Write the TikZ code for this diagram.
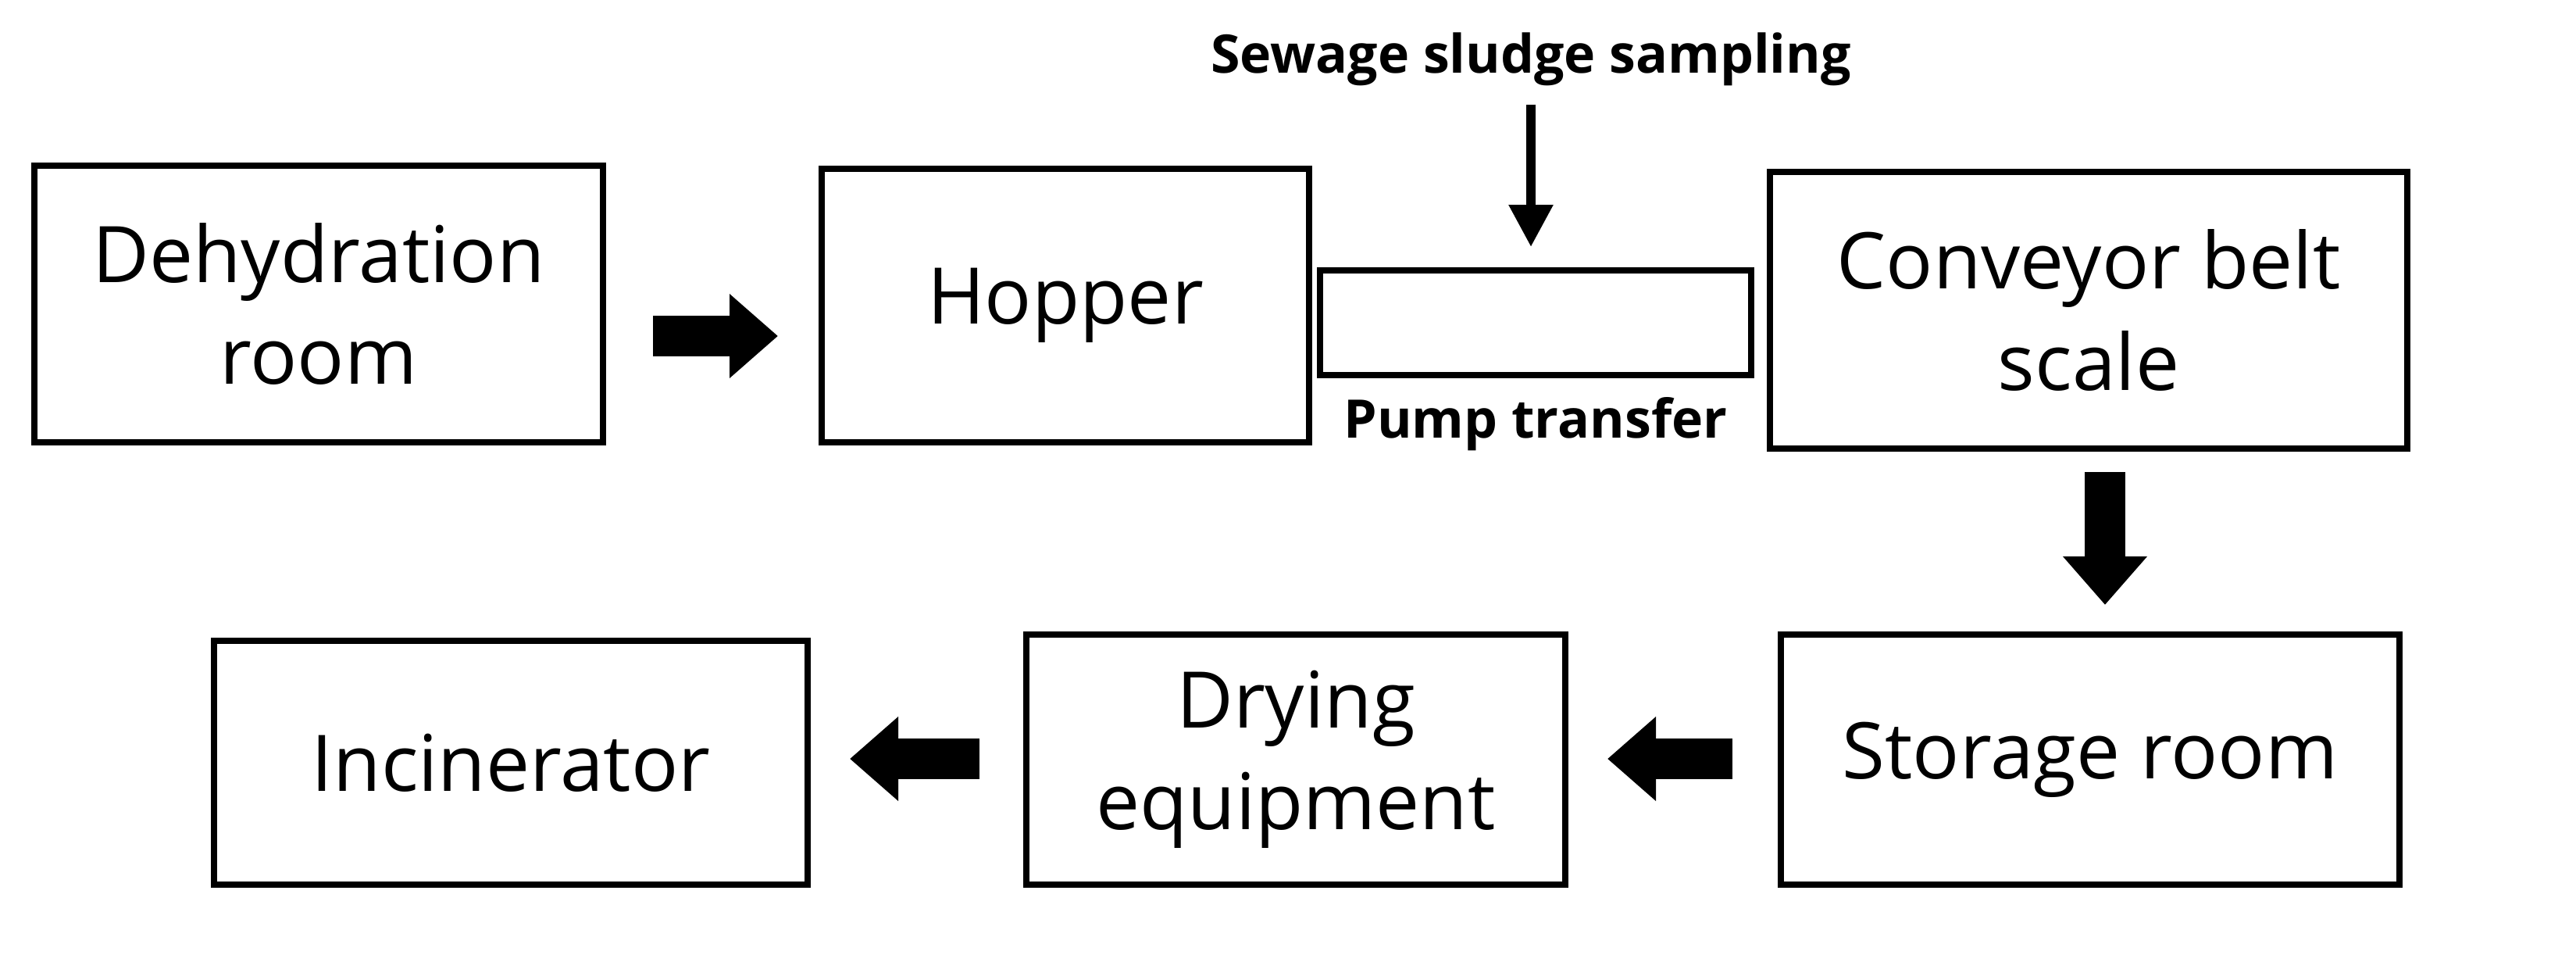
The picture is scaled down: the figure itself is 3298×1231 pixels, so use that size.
\documentclass[tikz,border=0pt]{standalone}
\usepackage{fontspec}
\setmainfont{Open Sans}
\usetikzlibrary{arrows.meta}
\begin{document}
\begin{tikzpicture}[x=1pt,y=-1pt,
  box/.style={draw,line width=8pt,inner sep=0pt,align=center,font=\fontsize{100}{130}\selectfont},
  fat/.style={line width=52pt,-{Triangle[length=62pt,width=104pt]}},
  lbl/.style={font=\bfseries\fontsize{68}{82}\selectfont}]
\useasboundingbox (0,0) rectangle (3298,1231);
\node[box,minimum width=728pt,minimum height=354pt] (dehyd) at (408,389) {Dehydration\\room};
\node[box,minimum width=624pt,minimum height=350pt] (hopper) at (1364,391) {Hopper};
\node[draw,line width=8pt,minimum width=552pt,minimum height=134pt,inner sep=0pt] (pump) at (1966,413) {};
\node[box,minimum width=816pt,minimum height=354pt] (conv) at (2674,397) {Conveyor belt\\scale};
\node[box,minimum width=792pt,minimum height=320pt] (store) at (2676,972) {Storage room};
\node[box,minimum width=690pt,minimum height=320pt] (dry) at (1659,972) {Drying\\equipment};
\node[box,minimum width=760pt,minimum height=312pt] (inc) at (654,976) {Incinerator};
\node[lbl] (samp) at (1960,76) {Sewage sludge sampling};
\node[lbl,anchor=north] (ptr) at (1966,505) {Pump transfer};
\coordinate (s0) at ([yshift=-20pt]samp.south);
\draw[line width=12pt,-{Triangle[length=54pt,width=54pt]}] (s0) -- ([yshift=26pt]pump.north -| s0);
\draw[fat,shorten <=60pt,shorten >=52pt] (dehyd.east |- 0,430) -- (hopper.west |- 0,430);
\draw[fat,shorten <=26pt,shorten >=34pt] (conv.south -| 2695,0) -- (store.north -| 2695,0);
\draw[fat,shorten <=58pt,shorten >=50pt] (store.west |- 0,971) -- (dry.east |- 0,971);
\draw[fat,shorten <=56pt,shorten >=50pt] (dry.west |- 0,971) -- (inc.east |- 0,971);
\end{tikzpicture}
\end{document}
